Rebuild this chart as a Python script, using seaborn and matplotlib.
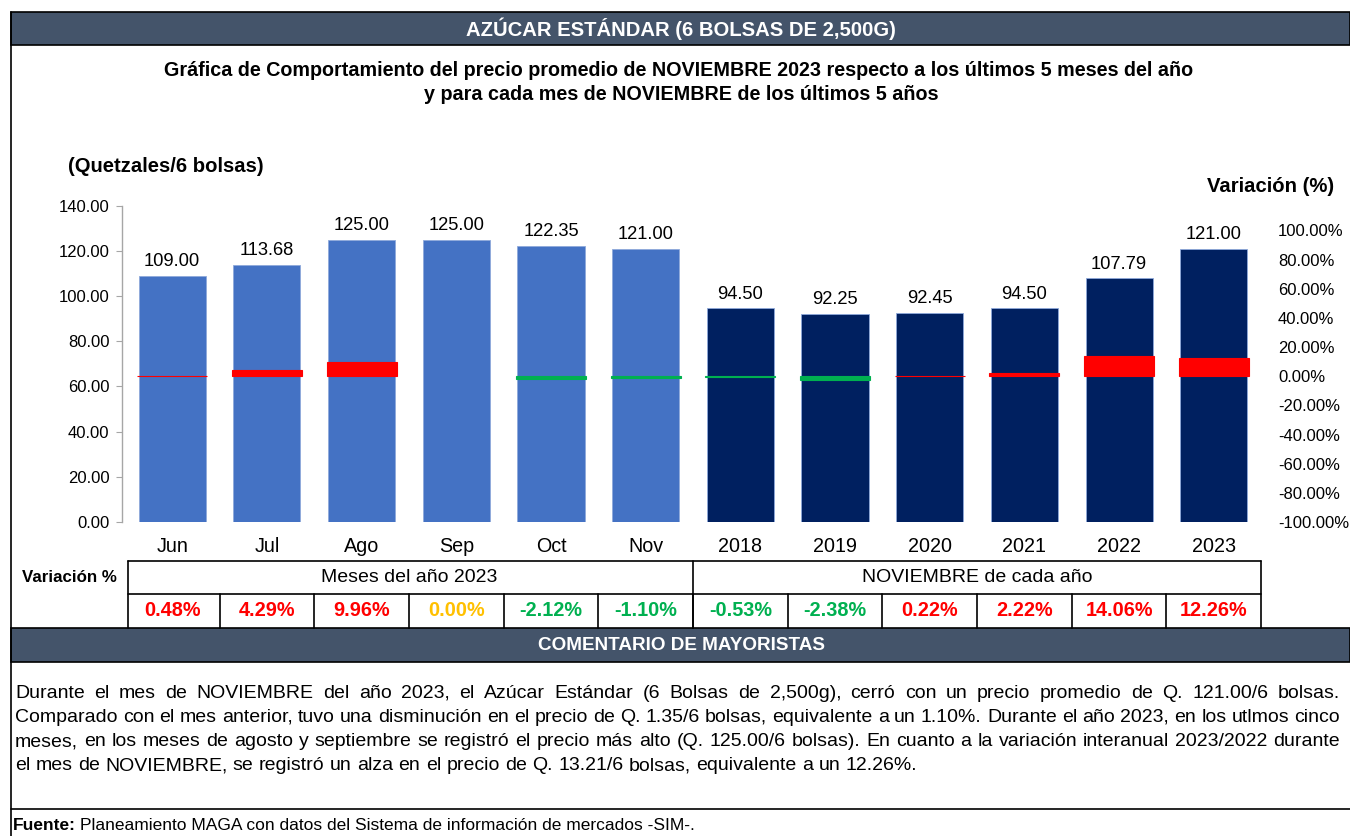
import matplotlib
matplotlib.use("Agg")
import matplotlib.pyplot as plt
import numpy as np
import pandas as pd
import seaborn as sns
from matplotlib.patches import Rectangle
from matplotlib.lines import Line2D
from matplotlib.transforms import blended_transform_factory

# ---------------------------------------------------------------- data
categorias = ["Jun", "Jul", "Ago", "Sep", "Oct", "Nov",
              "2018", "2019", "2020", "2021", "2022", "2023"]
precios = [109.00, 113.68, 125.00, 125.00, 122.35, 121.00,
           94.50, 92.25, 92.45, 94.50, 107.79, 121.00]
variacion = [0.48, 4.29, 9.96, 0.00, -2.12, -1.10,
             -0.53, -2.38, 0.22, 2.22, 14.06, 12.26]
grupos = ["Meses del año 2023"] * 6 + ["NOVIEMBRE de cada año"] * 6
ticks_precio = [0, 20, 40, 60, 80, 100, 120, 140]
ticks_variacion = [-100, -80, -60, -40, -20, 0, 20, 40, 60, 80, 100]

titulo = "AZÚCAR ESTÁNDAR (6 BOLSAS DE 2,500G)"
subtitulo = ["Gráfica de Comportamiento del precio promedio de NOVIEMBRE 2023 respecto a los últimos 5 meses del año",
             "y para cada mes de NOVIEMBRE de los últimos 5 años"]
comentario = [
    "Durante el mes de NOVIEMBRE del año 2023, el Azúcar Estándar (6 Bolsas de 2,500g), cerró con un precio promedio de Q. 121.00/6 bolsas.",
    "Comparado con el mes anterior, tuvo una disminución en el precio de Q. 1.35/6 bolsas, equivalente a un 1.10%. Durante el año 2023, en los utlmos cinco",
    "meses, en los meses de agosto y septiembre se registró el precio más alto (Q. 125.00/6 bolsas). En cuanto a la variación interanual 2023/2022 durante",
    "el mes de NOVIEMBRE, se registró un alza en el precio de Q. 13.21/6 bolsas, equivalente a un 12.26%.",
]
fuente = "Planeamiento MAGA con datos del Sistema de información de mercados -SIM-."

df = pd.DataFrame({"categoria": categorias, "precio": precios,
                   "variacion": variacion, "grupo": grupos})
df["signo"] = np.where(df["variacion"] > 0, "alza",
                       np.where(df["variacion"] < 0, "baja", "igual"))

# ---------------------------------------------------------------- style
sns.set_theme(style="white")
plt.rcParams["font.family"] = ["Liberation Sans", "DejaVu Sans"]

AZUL = "#4472C4"
MARINO = "#002060"
ROJO = "#FF0000"
VERDE = "#00B050"
NARANJA = "#FFC000"
BANDA = "#44546A"

W, H = 1350, 836
fig = plt.figure(figsize=(W / 100, H / 100), dpi=100)


def fx(x):
    return x / W


def fy(y):
    return 1 - y / H


def color_var(v):
    return ROJO if v > 0 else (VERDE if v < 0 else NARANJA)


# ---------------------------------------------------------------- frame and bands
lw_marco = 1.2
fig.add_artist(Rectangle((fx(11), fy(45)), fx(1350) - fx(11), (45 - 12) / H,
                         transform=fig.transFigure, facecolor=BANDA,
                         edgecolor="black", linewidth=lw_marco))
fig.add_artist(Rectangle((fx(11), fy(662)), fx(1350) - fx(11), (662 - 628) / H,
                         transform=fig.transFigure, facecolor=BANDA,
                         edgecolor="black", linewidth=lw_marco))
fig.add_artist(Line2D([fx(11), fx(11)], [fy(12), fy(836)], transform=fig.transFigure,
                      color="black", linewidth=lw_marco))
fig.add_artist(Line2D([fx(11), fx(1350)], [fy(809), fy(809)], transform=fig.transFigure,
                      color="black", linewidth=lw_marco))

fig.text(fx(681), fy(29), titulo, color="white", fontsize=14.6, fontweight="bold",
         ha="center", va="center")
fig.text(fx(682), fy(645), "COMENTARIO DE MAYORISTAS", color="white", fontsize=13.6,
         fontweight="bold", ha="center", va="center")

fig.text(fx(679), fy(71), subtitulo[0], fontsize=14.2, fontweight="bold",
         ha="center", va="center", color="black")
fig.text(fx(681), fy(95), subtitulo[1], fontsize=14.2, fontweight="bold",
         ha="center", va="center", color="black")

fig.text(fx(68), fy(167), "(Quetzales/6 bolsas)", fontsize=14.6, fontweight="bold",
         ha="left", va="center", color="black")
fig.text(fx(1334), fy(186), "Variación (%)", fontsize=14.6, fontweight="bold",
         ha="right", va="center", color="black")

# ---------------------------------------------------------------- bars
ax = fig.add_axes([fx(122), fy(522), fx(1264) - fx(122), (522 - 205.7) / H])
sns.barplot(data=df, x="categoria", y="precio", hue="grupo",
            palette={"Meses del año 2023": AZUL, "NOVIEMBRE de cada año": MARINO},
            width=0.71, dodge=False, legend=False, saturation=1, ax=ax)
for p in ax.patches:
    p.set_edgecolor("#8EA9DB")
    p.set_linewidth(0.6)

for i, v in enumerate(precios):
    ax.annotate(f"{v:.2f}", (i, v), xytext=(0, 7), textcoords="offset points",
                ha="center", va="baseline", fontsize=13.2, color="black")

ax.set_ylim(0, 140)
ax.set_yticks(ticks_precio)
ax.set_yticklabels([f"{t:.2f}" for t in ticks_precio])
ax.set_xlabel("")
ax.set_ylabel("")
for s in ["top", "right", "bottom"]:
    ax.spines[s].set_visible(False)
ax.spines["left"].set_color("#A6A6A6")
ax.spines["left"].set_linewidth(1.0)
ax.tick_params(axis="y", left=True, length=4, width=0.8, color="#A6A6A6",
               direction="out", labelsize=12, pad=5, labelcolor="black")
ax.tick_params(axis="x", length=0, labelsize=14.2, pad=11, labelcolor="black")

# variation markers on the secondary axis
ax2 = ax.twinx()
sns.barplot(data=df, x="categoria", y="variacion", hue="signo",
            palette={"alza": ROJO, "baja": VERDE, "igual": NARANJA},
            width=0.74, dodge=False, legend=False, saturation=1, ax=ax2)
for p in ax2.patches:
    if abs(p.get_height()) > 0:
        p.set_edgecolor(p.get_facecolor())
        p.set_linewidth(0.8)
    else:
        p.set_linewidth(0)
        p.set_visible(False)
ax2.set_ylim(-100, 117)
ax2.set_yticks(ticks_variacion)
ax2.set_yticklabels([f"{t:.2f}%" for t in ticks_variacion])
ax2.set_ylabel("")
for s in ["top", "right", "bottom", "left"]:
    ax2.spines[s].set_visible(False)
ax2.tick_params(axis="y", right=True, length=0, labelsize=12, pad=10,
                labelcolor="black")
ax.set_xlim(-0.53, len(categorias) - 1 + 0.53)

# ---------------------------------------------------------------- variation table
tr = blended_transform_factory(ax.transData, fig.transFigure)
n = len(categorias)
x_ini, x_fin = -0.47, n - 0.5
y_top, y_mid, y_bot = 561, 594, 628
lw_t = 1.2
fig.add_artist(Line2D([x_ini, x_fin], [fy(y_top)] * 2, transform=tr, color="black", lw=lw_t))
fig.add_artist(Line2D([x_ini, x_fin], [fy(y_mid)] * 2, transform=tr, color="black", lw=lw_t))
for k in (x_ini, 5.5, x_fin):
    fig.add_artist(Line2D([k] * 2, [fy(y_top), fy(y_bot)], transform=tr,
                          color="black", lw=lw_t))
for k in range(1, n):
    fig.add_artist(Line2D([k - 0.5] * 2, [fy(y_mid), fy(y_bot)], transform=tr,
                          color="black", lw=lw_t))
fig.text(2.5, fy((y_top + y_mid) / 2), grupos[0], transform=tr, fontsize=14,
         ha="center", va="center", color="black")
fig.text(8.5, fy((y_top + y_mid) / 2), grupos[-1], transform=tr, fontsize=14,
         ha="center", va="center", color="black")
for i, v in enumerate(variacion):
    fig.text(i, fy((y_mid + y_bot) / 2), f"{v:.2f}%", transform=tr, fontsize=14.3,
             fontweight="bold", ha="center", va="center", color=color_var(v))
fig.text(fx(69), fy(578), "Variación %", fontsize=12.2, fontweight="bold",
         ha="center", va="center", color="black")

# ---------------------------------------------------------------- justified comment
renderer = fig.canvas.get_renderer()


def ancho(t):
    return t.get_window_extent(renderer).width


def parrafo(lineas, x0, x1, y0, dy, size):
    muestra = fig.text(0, 0, "a a", fontsize=size)
    a = fig.text(0, 0, "aa", fontsize=size)
    espacio = ancho(muestra) - ancho(a)
    muestra.remove()
    a.remove()
    for k, linea in enumerate(lineas):
        palabras = linea.split(" ")
        objs = [fig.text(0, fy(y0 + k * dy), w, fontsize=size, ha="left",
                         va="center", color="black") for w in palabras]
        anchos = [ancho(o) for o in objs]
        if k < len(lineas) - 1:
            sp = (x1 - x0 - sum(anchos)) / (len(palabras) - 1)
        else:
            sp = espacio
        x = x0
        for o, w in zip(objs, anchos):
            o.set_x(fx(x))
            x += w + sp


parrafo(comentario, 15, 1340, 693, 24.3, 14)

f1 = fig.text(fx(13), fy(826), "Fuente:", fontsize=12.5, fontweight="bold",
              ha="left", va="center", color="black")
fig.text(fx(13) + (ancho(f1) + 4) / W, fy(826), fuente, fontsize=12.5,
         ha="left", va="center", color="black")

fig.savefig("out.png", dpi=100, facecolor="white")
